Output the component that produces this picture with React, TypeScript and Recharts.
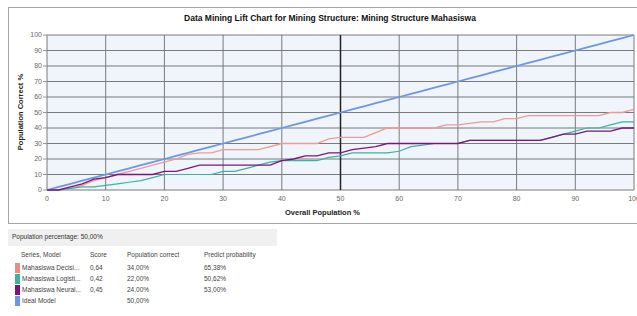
import { LineChart, Line, XAxis, YAxis, CartesianGrid, ReferenceLine } from 'recharts'

// overall population % (x), sampled every 2 units
const population = [
  0, 2, 4, 6, 8, 10, 12, 14, 16, 18, 20, 22, 24, 26, 28, 30, 32, 34, 36, 38, 40, 42, 44, 46, 48, 50,
  52, 54, 56, 58, 60, 62, 64, 66, 68, 70, 72, 74, 76, 78, 80, 82, 84, 86, 88, 90, 92, 94, 96, 98, 100,
]

const decisionTrees = [
  0, 0, 1, 3, 6, 8, 10, 12, 14, 16, 18, 20, 23, 24, 24, 26, 26, 26, 26, 28, 30, 30, 30, 30, 33, 34,
  34, 34, 37, 40, 40, 40, 40, 40, 42, 42, 43, 44, 44, 46, 46, 48, 48, 48, 48, 48, 48, 48, 50, 50, 52,
]

const logisticRegression = [
  0, 0, 1, 2, 2, 3, 4, 5, 6, 8, 10, 10, 10, 10, 10, 12, 12, 14, 16, 18, 19, 19, 19, 19, 21, 22,
  24, 24, 24, 24, 25, 28, 29, 30, 30, 30, 32, 32, 32, 32, 32, 32, 32, 34, 36, 38, 40, 40, 42, 44, 44,
]

const neuralNetwork = [
  0, 0, 2, 4, 7, 8, 10, 10, 10, 10, 12, 12, 14, 16, 16, 16, 16, 16, 16, 16, 19, 20, 22, 22, 24, 24,
  26, 27, 28, 30, 30, 30, 30, 30, 30, 30, 32, 32, 32, 32, 32, 32, 32, 34, 36, 36, 38, 38, 38, 40, 40,
]

const idealModel = [
  0, 2, 4, 6, 8, 10, 12, 14, 16, 18, 20, 22, 24, 26, 28, 30, 32, 34, 36, 38, 40, 42, 44, 46, 48, 50,
  52, 54, 56, 58, 60, 62, 64, 66, 68, 70, 72, 74, 76, 78, 80, 82, 84, 86, 88, 90, 92, 94, 96, 98, 100,
]

const axisTicks = [0, 10, 20, 30, 40, 50, 60, 70, 80, 90, 100]

const tableRows = [
  { name: 'Mahasiswa Decisi...', score: '0,64', correct: '34,00%', prob: '65,38%', color: '#ec8a84' },
  { name: 'Mahasiswa Logisti...', score: '0,42', correct: '22,00%', prob: '50,62%', color: '#3bb3a3' },
  { name: 'Mahasiswa Neural...', score: '0,45', correct: '24,00%', prob: '53,00%', color: '#7b157f' },
  { name: 'Ideal Model', score: '', correct: '50,00%', prob: '', color: '#6f96e6' },
]

const chartData = population.map((x, i) => ({
  x,
  decision: decisionTrees[i],
  logistic: logisticRegression[i],
  neural: neuralNetwork[i],
  ideal: idealModel[i],
}))

const font = '"Liberation Sans", Arial, sans-serif'
const tick = { fontSize: 7, fill: '#666', fontFamily: font }

export default function App() {
  return (
    <div style={{ position: 'absolute', left: 0, top: 0, width: 637, height: 316, background: '#fff', fontFamily: font, overflow: 'hidden' }}>
      <div style={{ position: 'absolute', left: 8, top: 7, width: 640, height: 217, border: '1px solid #a6a6a6', boxSizing: 'border-box' }} />
      <div style={{ position: 'absolute', left: 8, top: 13, width: 644, textAlign: 'center', fontSize: 8.5, fontWeight: 'bold', color: '#111' }}>
        Data Mining Lift Chart for Mining Structure: Mining Structure Mahasiswa
      </div>
      <div style={{ position: 'absolute', left: 8, top: 7 }}>
        <LineChart width={629} height={217} data={chartData} margin={{ top: 28, right: 3, left: 0, bottom: 0 }}>
          <CartesianGrid stroke="#7a7a7a" strokeWidth={1} fill="#eff5fb" />
          <XAxis
            type="number"
            dataKey="x"
            domain={[0, 100]}
            ticks={axisTicks}
            tick={tick}
            tickLine={false}
            axisLine={false}
            tickSize={4}
            tickMargin={2}
            height={34}
            interval={0}
          />
          <YAxis
            type="number"
            domain={[0, 100]}
            ticks={axisTicks}
            tick={tick}
            tickLine={{ stroke: '#999' }}
            axisLine={false}
            tickSize={4}
            tickMargin={1}
            width={39}
            interval={0}
          />
          <ReferenceLine x={50} stroke="#222" strokeWidth={1.5} />
          <Line type="linear" dataKey="ideal" stroke="#6f96e6" strokeWidth={1.8} dot={false} isAnimationActive={false} />
          <Line type="linear" dataKey="decision" stroke="#ef9a94" strokeWidth={1.3} dot={false} isAnimationActive={false} />
          <Line type="linear" dataKey="logistic" stroke="#3bb3a3" strokeWidth={1.2} dot={false} isAnimationActive={false} />
          <Line type="linear" dataKey="neural" stroke="#7b157f" strokeWidth={1.3} dot={false} isAnimationActive={false} />
        </LineChart>
      </div>
      <div style={{ position: 'absolute', left: 8, top: 208, width: 629, textAlign: 'center', fontSize: 7.5, fontWeight: 'bold', color: '#222' }}>
        Overall Population %
      </div>
      <div
        style={{
          position: 'absolute',
          left: 20,
          top: 112,
          transform: 'translate(-50%, -50%) rotate(-90deg)',
          whiteSpace: 'nowrap',
          fontSize: 7.5,
          fontWeight: 'bold',
          color: '#222',
        }}
      >
        Population Correct %
      </div>

      <div style={{ position: 'absolute', left: 8, top: 229, width: 269, height: 17, background: '#f0f0f0', fontSize: 6.5, color: '#333', lineHeight: '15px', paddingLeft: 4, boxSizing: 'border-box' }}>
        Population percentage: 50,00%
      </div>
      <div style={{ position: 'absolute', left: 21, top: 251, fontSize: 6.5, color: '#444' }}>Series, Model</div>
      <div style={{ position: 'absolute', left: 90, top: 251, fontSize: 6.5, color: '#444' }}>Score</div>
      <div style={{ position: 'absolute', left: 127, top: 251, fontSize: 6.5, color: '#444' }}>Population correct</div>
      <div style={{ position: 'absolute', left: 204, top: 251, fontSize: 6.5, color: '#444' }}>Predict probability</div>
      {tableRows.map((r, i) => (
        <div key={r.name} style={{ position: 'absolute', left: 0, top: 263 + i * 11, width: 280, height: 11, fontSize: 6.5, color: '#444' }}>
          <div style={{ position: 'absolute', left: 15, top: 0, width: 5, height: 10, background: r.color }} />
          <div style={{ position: 'absolute', left: 22, top: 1 }}>{r.name}</div>
          <div style={{ position: 'absolute', left: 90, top: 1 }}>{r.score}</div>
          <div style={{ position: 'absolute', left: 127, top: 1 }}>{r.correct}</div>
          <div style={{ position: 'absolute', left: 204, top: 1 }}>{r.prob}</div>
        </div>
      ))}
    </div>
  )
}
